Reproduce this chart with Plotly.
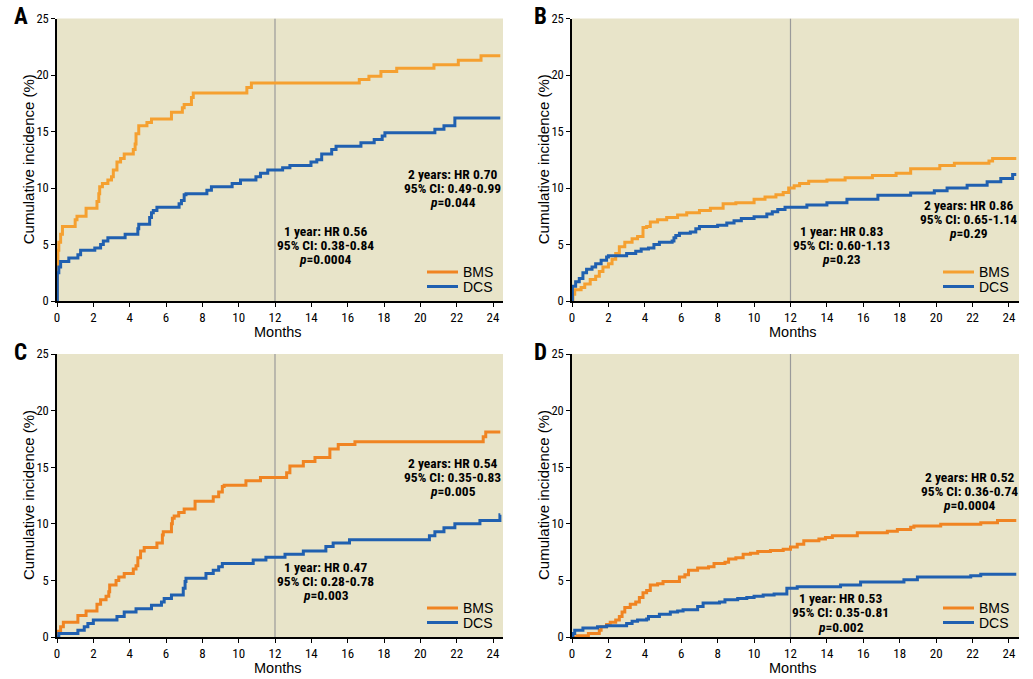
import plotly.graph_objects as go

# ---------------- data (time in months, cumulative incidence %) ----------------
MONTH_TICKS = list(range(0, 25, 2))
PCT_TICKS = [0, 5, 10, 15, 20, 25]
PANEL_LETTERS = ["A", "B", "C", "D"]
SERIES_NAMES = ["BMS", "DCS"]
X_TITLE = "Months"
Y_TITLE = "Cumulative incidence (%)"

A_BMS = [(0, 0), (0.02, 3.0), (0.05, 4.5), (0.1, 5.2), (0.2, 5.9), (0.3, 6.6), (1.0, 7.2), (1.1, 7.5),
         (1.6, 8.2), (2.2, 8.8), (2.3, 9.5), (2.35, 10.1), (2.5, 10.4), (2.8, 10.7), (3.0, 11.0),
         (3.1, 11.6), (3.3, 12.3), (3.5, 12.6), (3.7, 13.0), (4.2, 13.4), (4.3, 13.9), (4.35, 14.8),
         (4.5, 15.5), (4.95, 15.8), (5.2, 16.1), (6.3, 16.7), (6.9, 17.1), (7.0, 17.4), (7.4, 18.0),
         (7.5, 18.4), (10.45, 18.9), (10.7, 19.3), (16.64, 19.6), (17.17, 19.9), (17.83, 20.3),
         (18.7, 20.6), (20.75, 20.9), (22.09, 21.3), (23.34, 21.7), (24.4, 21.7)]
A_DCS = [(0, 0), (0.02, 2.5), (0.1, 3.0), (0.2, 3.5), (0.65, 3.8), (1.15, 4.1), (1.3, 4.5), (2.08, 4.7),
         (2.4, 5.0), (2.55, 5.3), (2.8, 5.6), (3.75, 5.9), (4.45, 6.4), (4.5, 6.8), (5.1, 7.4), (5.2, 7.8),
         (5.3, 8.0), (5.5, 8.3), (6.72, 8.6), (6.85, 8.9), (7.0, 9.4), (7.1, 9.5), (8.25, 9.8), (8.5, 10.1),
         (9.64, 10.4), (10.1, 10.7), (10.95, 11.0), (11.2, 11.3), (11.6, 11.6), (12.42, 11.8),
         (12.82, 12.0), (13.98, 12.3), (14.3, 12.5), (14.57, 13.0), (15.12, 13.4), (15.36, 13.7),
         (16.73, 14.0), (17.46, 14.3), (17.9, 14.6), (18.05, 14.9), (20.8, 15.2), (21.3, 15.5),
         (21.9, 16.2), (24.4, 16.2)]

B_BMS = [(0, 0), (0.05, 0.6), (0.15, 1.0), (0.5, 1.2), (0.7, 1.5), (1.0, 1.9), (1.3, 2.2), (1.5, 2.6),
         (1.7, 3.0), (2.0, 3.3), (2.2, 3.7), (2.4, 4.2), (2.6, 4.8), (2.9, 5.2), (3.3, 5.5), (3.6, 5.7),
         (3.9, 6.5), (4.1, 6.6), (4.3, 7.0), (4.7, 7.2), (5.2, 7.4), (5.8, 7.6), (6.3, 7.8), (7.0, 8.0),
         (7.6, 8.2), (8.3, 8.6), (9.0, 8.7), (10.0, 9.0), (10.6, 9.2), (11.2, 9.4), (11.6, 9.6),
         (11.9, 10.0), (12.2, 10.2), (12.5, 10.4), (13.0, 10.6), (14.0, 10.7), (15.0, 10.9),
         (16.5, 11.1), (17.8, 11.3), (18.6, 11.7), (20.2, 12.0), (21.0, 12.2), (22.9, 12.4),
         (23.1, 12.6), (24.4, 12.6)]
B_DCS = [(0, 0), (0.02, 1.3), (0.2, 1.7), (0.4, 2.0), (0.6, 2.5), (0.8, 2.8), (1.1, 3.0), (1.3, 3.3),
         (1.6, 3.6), (1.9, 3.9), (2.0, 4.0), (3.0, 4.2), (3.5, 4.4), (3.8, 4.6), (4.2, 4.7), (4.5, 5.0),
         (4.8, 5.2), (5.5, 5.3), (5.6, 5.6), (5.7, 5.8), (5.9, 6.0), (6.5, 6.1), (6.8, 6.4), (7.0, 6.6),
         (8.0, 6.7), (8.5, 6.9), (8.9, 7.1), (9.3, 7.3), (10.0, 7.45), (10.7, 7.7), (11.0, 7.9),
         (11.3, 8.1), (11.7, 8.3), (12.9, 8.5), (14.0, 8.7), (15.1, 9.0), (16.8, 9.35), (18.6, 9.55),
         (19.9, 9.75), (20.6, 10.0), (21.7, 10.25), (22.8, 10.55), (23.55, 10.85), (24.2, 11.2),
         (24.4, 11.2)]

C_BMS = [(0, 0), (0.05, 0.5), (0.2, 0.9), (0.35, 1.3), (1.15, 1.9), (1.6, 2.3), (2.2, 2.9), (2.4, 3.3),
         (2.7, 3.6), (2.85, 4.0), (2.9, 4.6), (3.25, 5.0), (3.4, 5.3), (3.7, 5.6), (4.2, 6.0), (4.35, 6.3),
         (4.45, 7.0), (4.6, 7.6), (4.8, 7.9), (5.5, 8.3), (5.8, 9.0), (5.85, 9.3), (6.3, 10.0),
         (6.35, 10.5), (6.45, 10.7), (6.7, 11.0), (7.0, 11.3), (7.6, 12.0), (8.6, 12.4), (8.9, 12.8),
         (9.1, 13.3), (9.2, 13.4), (10.4, 13.8), (11.2, 14.1), (12.64, 14.5), (12.82, 15.1),
         (13.56, 15.5), (14.2, 15.85), (15.02, 16.6), (15.48, 17.0), (16.4, 17.25), (23.46, 17.7),
         (23.6, 18.1), (24.4, 18.1)]
C_DCS = [(0, 0), (0.1, 0.3), (1.15, 0.6), (1.5, 0.9), (1.7, 1.2), (2.0, 1.5), (3.3, 1.8), (3.7, 2.2),
         (4.35, 2.5), (5.2, 2.8), (5.75, 3.1), (5.9, 3.4), (6.3, 3.7), (6.95, 4.3), (7.05, 4.9),
         (7.1, 5.2), (8.2, 5.6), (8.6, 5.9), (8.9, 6.2), (9.1, 6.5), (10.8, 6.8), (11.5, 7.05),
         (12.55, 7.3), (13.56, 7.6), (14.8, 8.0), (15.2, 8.3), (16.1, 8.6), (20.5, 8.95), (20.8, 9.3),
         (21.3, 9.65), (21.9, 10.0), (23.28, 10.3), (24.38, 10.8), (24.4, 10.8)]

D_BMS = [(0, 0), (0.3, 0.1), (0.9, 0.3), (1.5, 0.6), (1.6, 0.9), (1.9, 1.1), (2.1, 1.3), (2.4, 1.5),
         (2.6, 1.8), (2.75, 2.2), (2.9, 2.6), (3.2, 2.9), (3.5, 3.1), (3.7, 3.5), (3.9, 3.9), (4.1, 4.1),
         (4.3, 4.6), (4.7, 4.7), (5.0, 4.9), (5.9, 5.3), (6.2, 5.5), (6.4, 5.9), (6.9, 6.1), (7.5, 6.2),
         (7.8, 6.5), (8.4, 6.6), (8.6, 6.9), (9.0, 7.0), (9.4, 7.3), (9.8, 7.4), (10.2, 7.55),
         (10.9, 7.65), (11.6, 7.75), (12.0, 7.95), (12.37, 8.2), (12.73, 8.5), (13.56, 8.65),
         (13.92, 8.8), (14.3, 8.95), (15.67, 9.2), (17.32, 9.35), (17.87, 9.5), (18.6, 9.7),
         (18.78, 9.8), (20.25, 9.95), (22.45, 10.1), (23.37, 10.3), (24.4, 10.3)]
D_DCS = [(0, 0), (0.05, 0.3), (0.15, 0.6), (0.6, 0.8), (1.4, 0.9), (1.9, 1.0), (3.0, 1.2), (3.3, 1.4),
         (3.6, 1.5), (4.1, 1.6), (4.2, 1.8), (4.8, 2.0), (5.4, 2.2), (5.8, 2.3), (6.1, 2.4), (6.9, 2.7),
         (7.2, 3.0), (8.1, 3.1), (8.4, 3.3), (9.1, 3.4), (9.6, 3.5), (10.0, 3.6), (10.5, 3.7),
         (11.1, 3.8), (11.8, 4.3), (12.37, 4.45), (14.75, 4.6), (15.85, 4.85), (18.23, 5.05),
         (18.97, 5.3), (21.9, 5.4), (22.45, 5.55), (24.4, 5.55)]

# statistics text blocks
A_1Y = ["1 year: HR 0.56", "95% CI: 0.38-0.84", "<i>p</i>=0.0004"]
A_2Y = ["2 years: HR 0.70", "95% CI: 0.49-0.99", "<i>p</i>=0.044"]
B_1Y = ["1 year: HR 0.83", "95% CI: 0.60-1.13", "<i>p</i>=0.23"]
B_2Y = ["2 years: HR 0.86", "95% CI: 0.65-1.14", "<i>p</i>=0.29"]
C_1Y = ["1 year: HR 0.47", "95% CI: 0.28-0.78", "<i>p</i>=0.003"]
C_2Y = ["2 years: HR 0.54", "95% CI: 0.35-0.83", "<i>p</i>=0.005"]
D_1Y = ["1 year: HR 0.53", "95% CI: 0.35-0.81", "<i>p</i>=0.002"]
D_2Y = ["2 years: HR 0.52", "95% CI: 0.36-0.74", "<i>p</i>=0.0004"]

# ---------------- styling ----------------
FW, FH = 1033, 679
BG = "#E8E4C9"
ORANGE_LIGHT = "#F5A030"
ORANGE = "#F08422"
BLUE = "#2060B0"
COND = "Roboto Condensed, Open Sans Condensed, Liberation Sans, sans-serif"
SANS = "Liberation Sans, Arial, sans-serif"


def px_x(x):
    return x / FW


def px_y(y):
    return 1 - y / FH


# plot-area pixel boxes on the page (left, top, right, bottom)
BOXES = [(57, 18.5, 503, 301), (572, 18.5, 1019, 301),
         (57, 354, 503, 637), (572, 354, 1019, 637)]
LETTER_POS = [(20.5, 16), (540, 16), (20.5, 352.5), (540, 352.5)]
# annotation anchors (month, % of middle line)
ANN_POS = [((14.8, 4.96), (21.79, 10.0)), ((14.8, 4.96), (21.79, 7.26)),
           ((14.8, 4.95), (21.79, 14.13)), ((14.75, 2.2), (21.85, 12.9))]
LEGEND_COLORS = [(ORANGE, BLUE), (ORANGE_LIGHT, BLUE), (ORANGE, BLUE), (ORANGE, BLUE)]

panels = [
    (A_BMS, A_DCS, ORANGE_LIGHT, A_1Y, A_2Y),
    (B_BMS, B_DCS, ORANGE_LIGHT, B_1Y, B_2Y),
    (C_BMS, C_DCS, ORANGE, C_1Y, C_2Y),
    (D_BMS, D_DCS, ORANGE, D_1Y, D_2Y),
]

fig = go.Figure()
layout = dict(width=FW, height=FH, margin=dict(l=0, r=0, t=0, b=0), template="none",
              paper_bgcolor="white", plot_bgcolor=BG, showlegend=False,
              font=dict(family=SANS, color="black"))
annotations = []
shapes = []

for i, (bms, dcs, ocol, ann1, ann2) in enumerate(panels):
    n = i + 1
    xa = "x" if n == 1 else f"x{n}"
    ya = "y" if n == 1 else f"y{n}"
    l, t, r, b = BOXES[i]
    for name, data, col in ((SERIES_NAMES[0], bms, ocol), (SERIES_NAMES[1], dcs, BLUE)):
        xs = [p[0] for p in data]
        ys = [p[1] for p in data]
        fig.add_trace(go.Scatter(x=xs, y=ys, mode="lines", name=name,
                                 line=dict(color=col, width=3, shape="hv"),
                                 xaxis=xa, yaxis=ya, hoverinfo="skip"))
    xkey = "xaxis" if n == 1 else f"xaxis{n}"
    ykey = "yaxis" if n == 1 else f"yaxis{n}"
    layout[xkey] = dict(domain=[px_x(l), px_x(r)], anchor=ya, range=[0, 24.55], automargin=False,
                        tickvals=MONTH_TICKS, ticks="outside", ticklen=4, tickcolor="black",
                        showline=True, linecolor="black", linewidth=1.5, showgrid=False,
                        zeroline=False, tickfont=dict(family=COND, size=13, color="black"))
    layout[ykey] = dict(domain=[px_y(b), px_y(t)], anchor=xa, range=[0, 25], automargin=False,
                        tickvals=PCT_TICKS, ticks="outside", ticklen=4, tickcolor="black",
                        showline=True, linecolor="black", linewidth=1.5, showgrid=False,
                        zeroline=False, tickfont=dict(family=COND, size=12.5, color="black"))
    shapes.append(dict(type="line", xref=xa, yref=ya, x0=12, x1=12, y0=0, y1=25,
                       line=dict(color="#9A9A9A", width=1.2), layer="below"))
    # axis titles
    annotations.append(dict(text=X_TITLE, xref="paper", yref="paper", x=px_x(l + 221),
                            y=px_y(b + 30.5), xanchor="center", yanchor="middle", showarrow=False,
                            font=dict(family=SANS, size=14.5, color="black")))
    annotations.append(dict(text=Y_TITLE, xref="paper", yref="paper", x=px_x(l - 28.5),
                            y=px_y((t + b) / 2), xanchor="center", yanchor="middle",
                            textangle=-90, showarrow=False,
                            font=dict(family=SANS, size=15, color="black")))
    # legend (drawn in paper space at the lower right of each panel)
    for k, (name, col) in enumerate(zip(SERIES_NAMES, LEGEND_COLORS[i])):
        ypx = b - 29 + 14.5 * k
        shapes.append(dict(type="line", xref="paper", yref="paper", x0=px_x(r - 76),
                           x1=px_x(r - 45), y0=px_y(ypx), y1=px_y(ypx),
                           line=dict(color=col, width=3)))
        annotations.append(dict(text=name, xref="paper", yref="paper", x=px_x(r - 42),
                                y=px_y(ypx), xanchor="left", yanchor="middle", showarrow=False,
                                font=dict(family=SANS, size=14, color="black")))
    lx, ly = LETTER_POS[i]
    annotations.append(dict(text=f"<b>{PANEL_LETTERS[i]}</b>", xref="paper", yref="paper",
                            x=px_x(lx), y=px_y(ly), showarrow=False, xanchor="center",
                            yanchor="middle", font=dict(family=COND, size=23, color="black")))
    for (ax, ay), lines in zip(ANN_POS[i], (ann1, ann2)):
        for k, txt in enumerate(lines):
            annotations.append(dict(text=f"<b>{txt}</b>", xref=xa, yref=ya, x=ax, y=ay,
                                    yshift=(1 - k) * 14.4, showarrow=False, xanchor="center",
                                    yanchor="middle",
                                    font=dict(family=COND, size=13.5, color="black")))

layout["annotations"] = annotations
layout["shapes"] = shapes
fig.update_layout(**layout)
# the page's default 8px body margin would shift the whole figure; remove it
fig.write_html("out.html", config={"displayModeBar": False},
               post_script="document.body.style.margin='0px';")
